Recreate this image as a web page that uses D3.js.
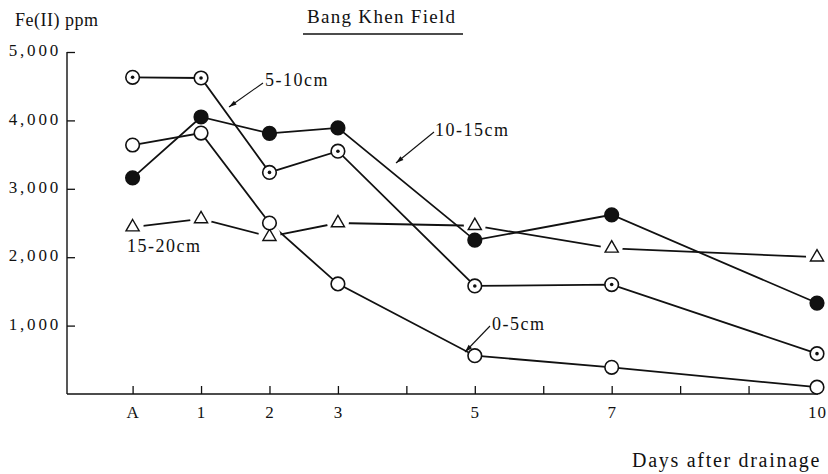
<!DOCTYPE html>
<html><head><meta charset="utf-8">
<script src="https://cdn.jsdelivr.net/npm/d3@7"></script>
<style>
body{margin:0;background:#fff;}
svg{font-family:"Liberation Serif","DejaVu Serif",serif;}
</style></head>
<body><svg id="c" width="828" height="474"></svg>
<script>
const days = [0, 1, 2, 3, 5, 7, 10];
const dayLabels = ["A", "1", "2", "3", "5", "7", "10"];
const tickDays = [0,1,2,3,4,5,6,7,8,9,10];
const yTicks = [1000, 2000, 3000, 4000, 5000];
const s0_5 = [3640, 3815, 2500, 1610, 560, 390, 100];
const s5_10 = [4630, 4620, 3240, 3550, 1580, 1600, 590];
const s10_15 = [3160, 4050, 3810, 3890, 2250, 2620, 1330];
const s15_20 = [2440, 2560, 2300, 2500, 2460, 2130, 2000];

const svg = d3.select("#c");
const x = d3.scaleLinear().domain([0, 10]).range([132.6, 817]);
const y = d3.scaleLinear().domain([0, 5000]).range([394, 52]);
const axisLeft = 67;

// y axis
const ya = svg.append("g").attr("transform", `translate(${axisLeft},0)`)
  .call(d3.axisLeft(y).tickValues(yTicks).tickSizeInner(-8).tickSizeOuter(0).tickPadding(6)
    .tickFormat(d3.format(",")));
ya.select(".domain").remove();
ya.selectAll("line").attr("stroke", "#111").attr("stroke-width", 1.3);
ya.selectAll("text").attr("font-size", 17).attr("fill", "#111").attr("dy", "0.22em")
  .attr("font-family", "Liberation Serif").attr("letter-spacing", 2.8);
svg.append("line").attr("x1", axisLeft).attr("x2", axisLeft).attr("y1", y(5000)).attr("y2", y(0))
  .attr("stroke", "#111").attr("stroke-width", 1.4);

// x axis
const xa = svg.append("g").attr("transform", `translate(0,${y(0)})`)
  .call(d3.axisBottom(x).tickValues(tickDays).tickSizeInner(-8).tickSizeOuter(0).tickPadding(12)
    .tickFormat(d => { const i = days.indexOf(d); return i >= 0 ? dayLabels[i] : ""; }));
xa.select(".domain").remove();
xa.selectAll("line").attr("stroke", "#111").attr("stroke-width", 1.3);
xa.selectAll("text").attr("font-size", 17).attr("fill", "#111").attr("font-family", "Liberation Serif")
  .attr("letter-spacing", 1);
svg.append("line").attr("x1", axisLeft).attr("x2", x(10) + 1).attr("y1", y(0)).attr("y2", y(0))
  .attr("stroke", "#111").attr("stroke-width", 1.4);

// series
const series = [
  {vals: s15_20, type: "tri"},
  {vals: s0_5, type: "open"},
  {vals: s10_15, type: "filled"},
  {vals: s5_10, type: "dot"}
];
const line = d3.line().x((d, i) => x(days[i])).y(d => y(d));
series.forEach(s => {
  svg.append("path").attr("d", line(s.vals)).attr("fill", "none")
    .attr("stroke", "#111").attr("stroke-width", 1.8);
});
// white gaps behind triangles
series.forEach(s => {
  if (s.type !== "tri") return;
  s.vals.forEach((v, i) => {
    svg.append("circle").attr("cx", x(days[i])).attr("cy", y(v) - 1).attr("r", 11).attr("fill", "#fff");
  });
});
series.forEach(s => {
  s.vals.forEach((v, i) => {
    const cx = x(days[i]), cy = y(v);
    if (s.type === "tri") {
      const tri = d3.symbol().type(d3.symbolTriangle).size(75);
      svg.append("path").attr("d", tri()).attr("transform", `translate(${cx},${cy})`)
        .attr("fill", "#fff").attr("stroke", "#111").attr("stroke-width", 1.4);
    } else {
      svg.append("circle").attr("cx", cx).attr("cy", cy).attr("r", 6.8)
        .attr("fill", s.type === "filled" ? "#111" : "#fff")
        .attr("stroke", "#111").attr("stroke-width", 1.6);
      if (s.type === "dot") {
        svg.append("circle").attr("cx", cx).attr("cy", cy).attr("r", 1.8).attr("fill", "#111");
      }
    }
  });
});

// annotations
function arrow(x1, y1, x2, y2) {
  svg.append("line").attr("x1", x1).attr("y1", y1).attr("x2", x2).attr("y2", y2)
    .attr("stroke", "#111").attr("stroke-width", 1.1);
  const a = Math.atan2(y2 - y1, x2 - x1), L = 8, w = 0.3;
  const p = [[x2, y2], [x2 - L * Math.cos(a - w), y2 - L * Math.sin(a - w)],
             [x2 - L * Math.cos(a + w), y2 - L * Math.sin(a + w)]];
  svg.append("path").attr("d", "M" + p.join("L") + "Z").attr("fill", "#111");
}
arrow(263, 83, 229, 107);
arrow(434, 132, 396, 163);
arrow(490, 326, 465, 352);

const txt = (t, xx, yy, size, anchor, ls) => svg.append("text").attr("x", xx).attr("y", yy)
  .attr("font-size", size).attr("fill", "#111").attr("text-anchor", anchor || "start")
  .attr("letter-spacing", ls || 0).text(t);
txt("5-10cm", 265, 86, 18, "start", 1.5);
txt("10-15cm", 435, 136, 18, "start", 1.5);
txt("15-20cm", 127, 252, 18, "start", 1.5);
txt("0-5cm", 492, 330, 18, "start", 1.5);
txt("Fe(II) ppm", 15, 26, 18, "start", 0.5);
txt("Bang Khen Field", 307, 23, 19, "start", 1.3);
svg.append("line").attr("x1", 303).attr("x2", 463).attr("y1", 34).attr("y2", 34)
  .attr("stroke", "#111").attr("stroke-width", 1.4);
txt("Days after drainage", 821, 467, 20, "end", 1.7);
</script></body></html>
